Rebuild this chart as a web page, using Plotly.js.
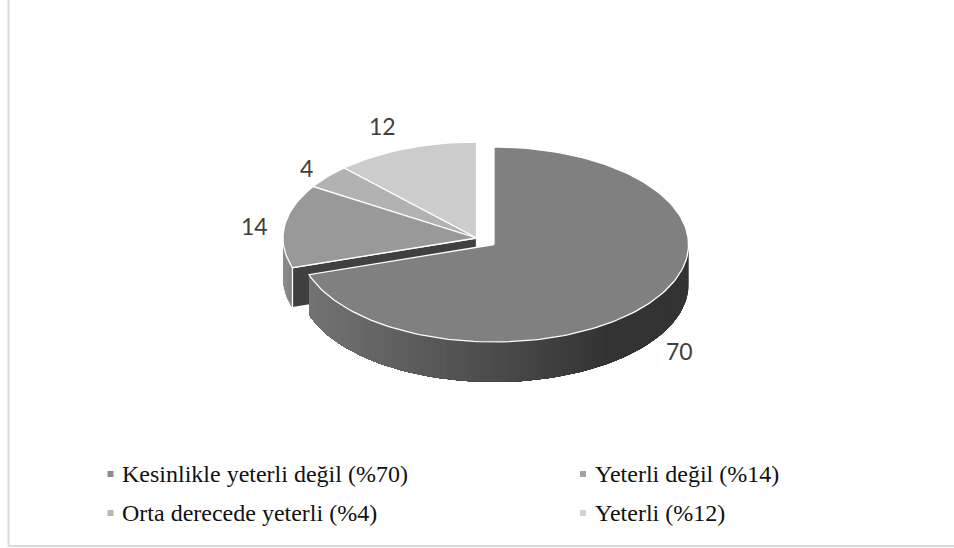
<!DOCTYPE html>
<html>
<head>
<meta charset="utf-8">
<script src="https://cdn.plot.ly/plotly-3.0.1.min.js"></script>
<style>html,body{margin:0;padding:0;background:#fff}#chart{width:954px;height:548px}</style>
</head>
<body>
<div id="chart"></div>
<script>
// Data
const categories = ["Kesinlikle yeterli değil (%70)", "Yeterli değil (%14)", "Orta derecede yeterli (%4)", "Yeterli (%12)"];
const values = [70, 14, 4, 12];

// Styles
const topColors = ["#808080", "#999999", "#b2b2b2", "#cccccc"];
const legendColors = ["#8c8c8c", "#a3a3a3", "#b8b8b8", "#d2d2d2"];

// Layout (pixel-scaled axes)
const W = 954, H = 548;
const mainPie = {cx: 494, cy: 244.5, rx: 194.5, ry: 97.5};
const restPie = {cx: 476.5, cy: 238, rx: 193.5, ry: 96};
const depth = 40;
const labelAnchors = [[679, 351], [254, 226], [306, 168], [382, 126]];
const legendAnchors = [[110.5, 122, 474], [583, 595, 474], [110.5, 122, 513], [583, 595, 513]];

const total = values.reduce((a, b) => a + b, 0);
const pt = (p, deg) => {
  const t = deg * Math.PI / 180;
  return [p.cx + p.rx * Math.sin(t), p.cy - p.ry * Math.cos(t)];
};
const arc = (p, a, b) => {
  const n = Math.max(2, Math.ceil(Math.abs(b - a) / 1.5));
  const out = [];
  for (let i = 0; i <= n; i++) out.push(pt(p, a + (b - a) * i / n));
  return out;
};
const poly = (pts, color, lineColor, lineWidth) => ({
  type: "scatter", mode: "lines", fill: "toself",
  x: pts.map(q => q[0]), y: pts.map(q => q[1]),
  fillcolor: color, line: {color: lineColor, width: lineWidth},
  hoverinfo: "skip", showlegend: false
});
const mix = (c1, c2, f) => {
  const v = Math.round(c1 + (c2 - c1) * Math.min(1, Math.max(0, f)));
  return `rgb(${v},${v},${v})`;
};

// Slice angles from the values
const angles = [0];
values.forEach(v => angles.push(angles[angles.length - 1] + v / total * 360));

const traces = [];
// Each band runs from its start to the end of the side, so later bands paint over earlier ones without seams
const sideBands = (p, a, b, shade) => {
  const n = Math.ceil(Math.abs(b - a) / 2);
  for (let i = 0; i < n; i++) {
    const s = arc(p, a + (b - a) * i / n, b);
    const pts = s.concat(s.slice().reverse().map(q => [q[0], q[1] + depth]));
    pts.push(pts[0]);
    const c = shade(s[0][0]);
    traces.push(poly(pts, c, c, 0));
  }
};

// Back group: slices 4, 3, then slice 2 with its faces
[3, 2, 1].forEach(i => {
  if (i === 1) {
    sideBands(restPie, 270, angles[1], x => mix(140, 125, (x - 283) / 12));
    const e = pt(restPie, angles[1]);
    const a = [restPie.cx, restPie.cy];
    traces.push(poly([a, e, [e[0], e[1] + depth], [a[0], a[1] + depth], a], "#404040", "#ffffff", 1.3));
  }
  const wedge = [[restPie.cx, restPie.cy]].concat(arc(restPie, angles[i], angles[i + 1]));
  wedge.push(wedge[0]);
  traces.push(poly(wedge, topColors[i], "#ffffff", 1.3));
});

// Front slice
sideBands(mainPie, 90, angles[1], x => mix(51, 115, (610 - x) / 300));
const mainWedge = [[mainPie.cx, mainPie.cy]].concat(arc(mainPie, 0, angles[1]));
mainWedge.push(mainWedge[0]);
traces.push(poly(mainWedge, topColors[0], "#ffffff", 1.3));

// Legend markers
traces.push({
  type: "scatter", mode: "markers",
  x: legendAnchors.map(a => a[0]), y: legendAnchors.map(a => a[2]),
  marker: {symbol: "square", size: 6, color: legendColors},
  hoverinfo: "skip", showlegend: false
});

const annotations = [];
values.forEach((v, i) => annotations.push({
  x: labelAnchors[i][0], y: labelAnchors[i][1], xref: "x", yref: "y",
  text: String(v), showarrow: false, xanchor: "center", yanchor: "middle",
  font: {family: "Lato, sans-serif", size: 23, color: "#404040"}
}));
categories.forEach((c, i) => annotations.push({
  x: legendAnchors[i][1], y: legendAnchors[i][2], xref: "x", yref: "y",
  text: c, showarrow: false, xanchor: "left", yanchor: "middle", xshift: -2,
  font: {family: "Liberation Serif, serif", size: 24, color: "#111111"}
}));

const layout = {
  width: W, height: H,
  margin: {l: 0, r: 0, t: 0, b: 0},
  paper_bgcolor: "#ffffff", plot_bgcolor: "#ffffff",
  xaxis: {range: [0, W], visible: false, fixedrange: true},
  yaxis: {range: [H, 0], visible: false, fixedrange: true},
  showlegend: false,
  annotations,
  shapes: [
    {type: "line", xref: "x", yref: "y", x0: 8.5, x1: 8.5, y0: 0, y1: 547, line: {color: "#d9d9d9", width: 2}},
    {type: "line", xref: "x", yref: "y", x0: 8, x1: W, y0: 546, y1: 546, line: {color: "#d9d9d9", width: 2}}
  ]
};
Plotly.newPlot("chart", traces, layout, {displayModeBar: false, staticPlot: true});
</script>
</body>
</html>
